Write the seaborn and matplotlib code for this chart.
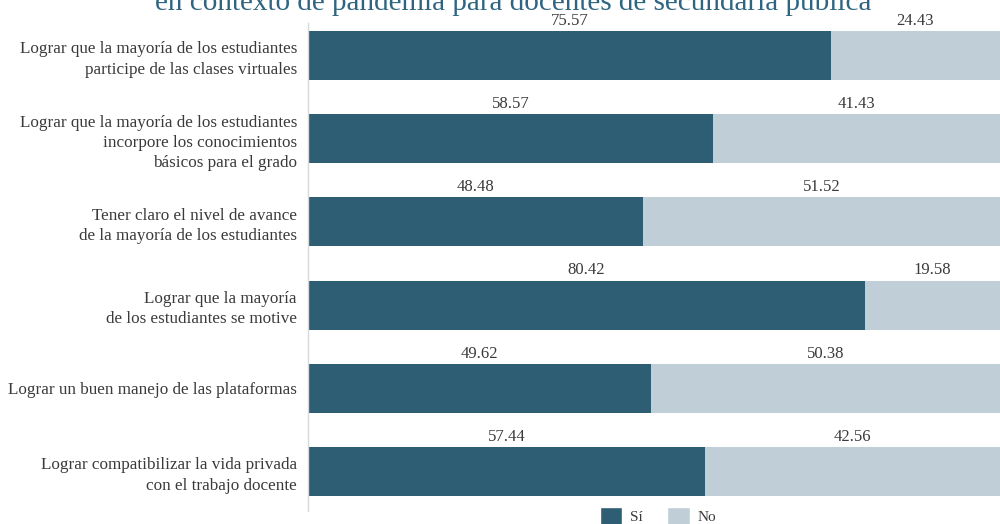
import numpy as np
import pandas as pd
import seaborn as sns
import matplotlib.pyplot as plt
from matplotlib.patches import Patch

# datos
categorias = [
    "Lograr que la mayoría de los estudiantes\nparticipe de las clases virtuales",
    "Lograr que la mayoría de los estudiantes\nincorpore los conocimientos\nbásicos para el grado",
    "Tener claro el nivel de avance\nde la mayoría de los estudiantes",
    "Lograr que la mayoría\nde los estudiantes se motive",
    "Lograr un buen manejo de las plataformas",
    "Lograr compatibilizar la vida privada\ncon el trabajo docente",
]
si = [75.57, 58.57, 48.48, 80.42, 49.62, 57.44]
no = [24.43, 41.43, 51.52, 19.58, 50.38, 42.56]
titulo = "en contexto de pandemia para docentes de secundaria pública"

c_si = "#2d5e73"
c_no = "#c0cfd7"
gris = "#3a3a3a"

df = pd.DataFrame({"cat": categorias, "si": si, "no": no})
df["total"] = df["si"] + df["no"]

sns.set_style("white")
plt.rcParams["font.family"] = ["Liberation Serif", "DejaVu Serif"]

fig = plt.figure(figsize=(10, 5.24), dpi=100)
ax = fig.add_axes([0.308, 0.0248, 0.692, 0.9313])

sns.barplot(data=df, y="cat", x="total", color=c_no, width=0.59, ax=ax,
            orient="h", saturation=1, linewidth=0)
sns.barplot(data=df, y="cat", x="si", color=c_si, width=0.59, ax=ax,
            orient="h", saturation=1, linewidth=0)

for i, (s, n) in enumerate(zip(si, no)):
    ax.annotate(f"{s:.2f}", (s / 2, i - 0.295), xytext=(0, 1.5),
                textcoords="offset points", ha="center", va="bottom",
                fontsize=12, color=gris)
    ax.annotate(f"{n:.2f}", (s + n / 2, i - 0.295), xytext=(0, 1.5),
                textcoords="offset points", ha="center", va="bottom",
                fontsize=12, color=gris)

ax.set_xlim(0, 100)
ax.set_ylim(5.475, -0.39)
ax.set_xlabel("")
ax.set_ylabel("")
ax.set_xticks([])
ax.tick_params(axis="y", length=0, pad=8, labelsize=12.3, labelcolor=gris)
for lab in ax.get_yticklabels():
    lab.set_horizontalalignment("right")
    lab.set_linespacing(1.35)
for sp in ["top", "right", "bottom"]:
    ax.spines[sp].set_visible(False)
ax.spines["left"].set_color("#d5d9dc")
ax.spines["left"].set_linewidth(1)

fig.text(0.513, 1 - 10 / 524, titulo, ha="center", va="baseline",
         fontsize=21, color="#2f6580")

handles = [Patch(facecolor=c_si, label="Sí"), Patch(facecolor=c_no, label="No")]
fig.legend(handles=handles, loc="center", bbox_to_anchor=(0.658, 0.015),
           ncol=2, frameon=False, fontsize=11, handlelength=1.5,
           handleheight=1.4, columnspacing=1.6, handletextpad=0.5,
           labelcolor=gris, borderaxespad=0, borderpad=0)

fig.savefig("out.png", dpi=100)
